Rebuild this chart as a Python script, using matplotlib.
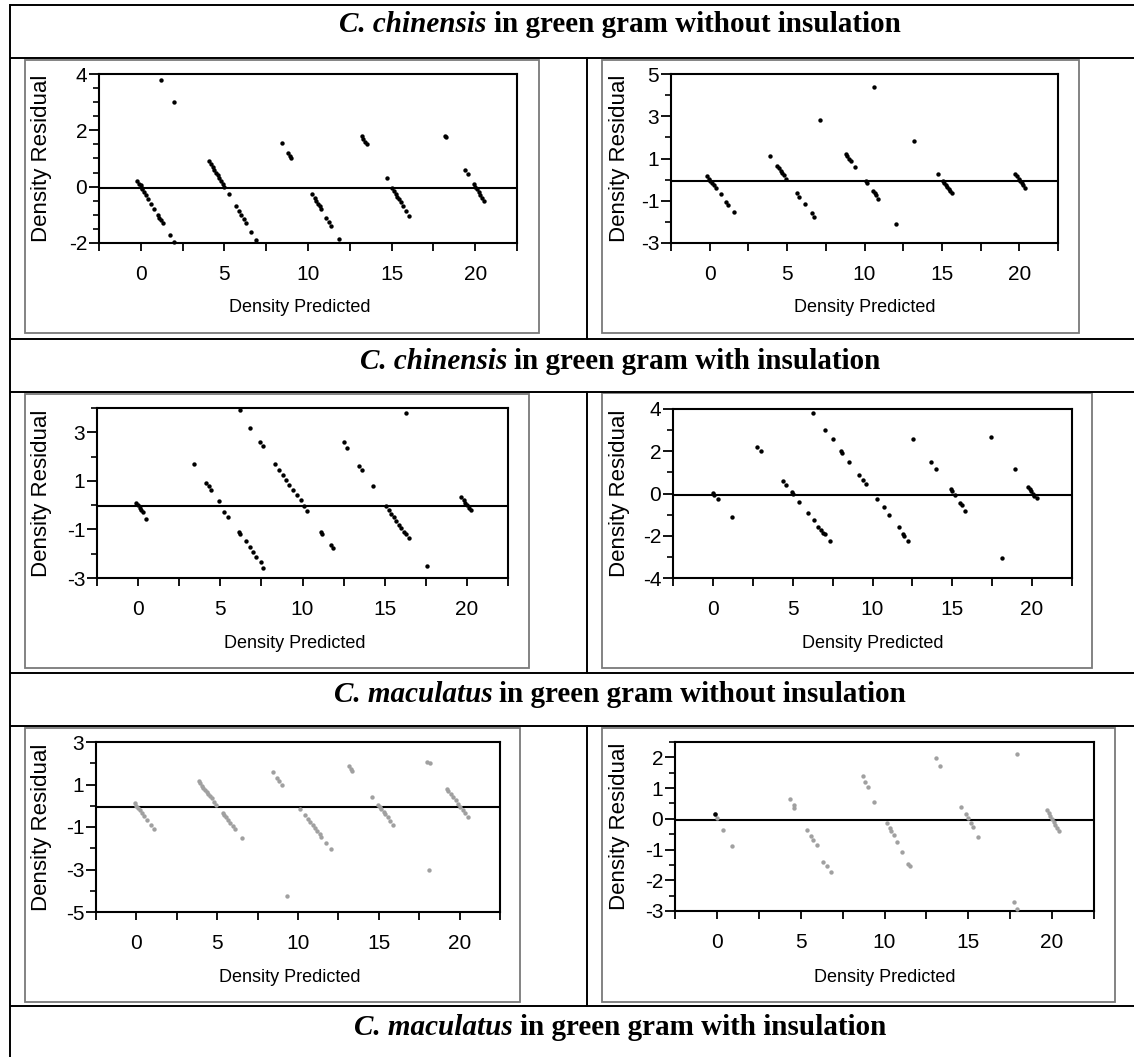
import matplotlib
matplotlib.use("Agg")
import matplotlib.pyplot as plt
from matplotlib.patches import Rectangle
import numpy as np

plt.rcParams['axes.unicode_minus'] = False

W, H = 1134, 1057

# ---- data ----
headers = [
    ("C. chinensis", "in green gram without insulation"),
    ("C. chinensis", "in green gram with insulation"),
    ("C. maculatus", "in green gram without insulation"),
    ("C. maculatus", "in green gram with insulation"),
]

pred_1 = [-0.2, -0.1, 0.0, 0.05, 0.1, 0.2, 0.3, 0.45, 0.6, 0.8, 1.0, 1.1, 1.2, 1.3, 1.75, 2.0, 1.2, 2.0,
          4.1, 4.2, 4.3, 4.4, 4.5, 4.6, 4.7, 4.8, 4.9, 5.0, 5.25, 5.7, 5.85, 6.0, 6.15, 6.3, 6.6, 6.9,
          8.45, 8.8, 8.9, 9.0, 10.25, 10.4, 10.5, 10.6, 10.7, 10.8, 11.1, 11.25, 11.4, 11.85,
          13.2, 13.3, 13.4, 13.5, 14.75, 15.05, 15.15, 15.25, 15.35, 15.45, 15.55, 15.7, 15.85, 16.05,
          18.2, 18.25, 19.4, 19.55, 19.9, 20.0, 20.1, 20.2, 20.3, 20.4, 20.55]
resid_1 = [0.2, 0.1, 0.05, -0.05, -0.1, -0.2, -0.3, -0.45, -0.6, -0.8, -1.0, -1.1, -1.2, -1.3, -1.7, -1.95, 3.8, 3.02,
           0.9, 0.8, 0.7, 0.6, 0.5, 0.4, 0.3, 0.2, 0.1, 0.0, -0.25, -0.7, -0.85, -1.0, -1.15, -1.3, -1.6, -1.9,
           1.55, 1.2, 1.1, 1.0, -0.25, -0.4, -0.5, -0.6, -0.7, -0.8, -1.1, -1.25, -1.4, -1.85,
           1.8, 1.7, 1.6, 1.5, 0.3, -0.05, -0.15, -0.25, -0.35, -0.45, -0.55, -0.7, -0.85, -1.05,
           1.8, 1.75, 0.6, 0.45, 0.1, 0.0, -0.1, -0.2, -0.3, -0.4, -0.5]

pred_2 = [-0.15, -0.05, 0.05, 0.15, 0.25, 0.4, 0.7, 1.05, 1.2, 1.55,
          3.9, 4.35, 4.45, 4.6, 4.7, 4.8, 4.95, 5.65, 5.8, 6.15, 6.6, 6.75, 7.15,
          8.8, 8.9, 9.0, 9.1, 9.4, 10.1, 10.15, 10.55, 10.65, 10.75, 10.9, 10.6, 12.05, 13.2,
          14.75, 15.05, 15.15, 15.25, 15.35, 15.45, 15.55, 15.65,
          19.75, 19.85, 19.95, 20.05, 20.15, 20.25, 20.4]
resid_2 = [0.15, 0.05, -0.05, -0.15, -0.25, -0.4, -0.7, -1.05, -1.2, -1.55,
           1.1, 0.65, 0.55, 0.4, 0.3, 0.2, 0.05, -0.65, -0.8, -1.15, -1.6, -1.75, 2.83,
           1.2, 1.1, 1.0, 0.9, 0.6, -0.05, -0.15, -0.55, -0.65, -0.75, -0.9, 4.4, -2.09, 1.83,
           0.25, -0.05, -0.15, -0.25, -0.35, -0.45, -0.55, -0.65,
           0.25, 0.15, 0.05, -0.05, -0.15, -0.25, -0.4]

pred_3 = [-0.1, 0.0, 0.1, 0.2, 0.3, 0.5, 3.4, 4.1, 4.3, 4.45, 4.9, 5.2, 5.45,
          6.15, 6.2, 6.55, 6.8, 7.0, 7.2, 7.45, 7.6,
          6.2, 6.8, 7.4, 7.6, 8.35, 8.55, 8.8, 9.0, 9.2, 9.45, 9.65, 9.9, 10.1, 10.3,
          11.1, 11.2, 11.75, 11.85, 12.5, 12.7, 13.45, 13.6, 14.3,
          15.1, 15.25, 15.4, 15.55, 15.7, 15.85, 16.0, 16.15, 16.3, 16.45, 16.3, 17.55,
          19.65, 19.8, 19.9, 20.0, 20.1, 20.25]
resid_3 = [0.1, 0.0, -0.1, -0.2, -0.3, -0.55, 1.7, 0.93, 0.77, 0.63, 0.17, -0.27, -0.48,
           -1.1, -1.2, -1.48, -1.72, -1.92, -2.13, -2.34, -2.57,
           3.9, 3.18, 2.59, 2.42, 1.7, 1.45, 1.25, 1.04, 0.83, 0.63, 0.42, 0.21, -0.03, -0.23,
           -1.1, -1.2, -1.65, -1.75, 2.59, 2.35, 1.62, 1.45, 0.77,
           -0.03, -0.2, -0.35, -0.5, -0.65, -0.8, -0.95, -1.1, -1.2, -1.35, 3.8, -2.5,
           0.35, 0.2, 0.1, 0.0, -0.1, -0.2]

pred_4 = [0.0, 0.1, 0.35, 1.2, 2.75, 3.0, 4.4, 4.6, 4.95, 5.05,
          5.4, 5.95, 6.35, 6.6, 6.75, 6.9, 7.0, 7.35,
          6.25, 7.05, 7.55, 8.05, 8.1, 8.55, 9.15, 9.4, 9.6,
          10.3, 10.75, 11.05, 11.65, 11.9, 12.0, 12.25,
          12.55, 13.65, 13.95, 14.9, 15.0, 15.2, 15.5, 15.6, 15.8, 17.45, 18.1, 18.9,
          19.75, 19.85, 19.95, 20.05, 20.15, 20.3]
resid_4 = [0.03, -0.08, -0.28, -1.1, 2.2, 2.0, 0.6, 0.4, 0.08, 0.0,
           -0.4, -0.92, -1.26, -1.6, -1.74, -1.85, -1.94, -2.26,
           3.83, 3.0, 2.56, 2.0, 1.9, 1.5, 0.87, 0.63, 0.43,
           -0.28, -0.63, -1.0, -1.58, -1.9, -2.0, -2.26,
           2.56, 1.5, 1.14, 0.19, 0.1, -0.08, -0.44, -0.55, -0.82, 2.66, -3.05, 1.14,
           0.3, 0.2, 0.1, 0.0, -0.1, -0.2]

pred_5 = [-0.1, 0.0, 0.1, 0.2, 0.35, 0.5, 0.65, 0.9, 1.1,
          3.85, 3.95, 4.05, 4.15, 4.25, 4.35, 4.45, 4.55, 4.65, 4.8, 4.95,
          5.35, 5.45, 5.55, 5.65, 5.8, 5.95, 6.1, 6.55,
          8.45, 8.7, 8.85, 9.0, 9.3, 10.15, 10.45, 10.6, 10.75, 10.9, 11.05, 11.2, 11.35, 11.45, 11.75, 12.05,
          13.15, 13.25, 13.35, 14.6, 14.95, 15.05, 15.15, 15.3, 15.4, 15.55, 15.7, 15.9,
          18.0, 18.15, 18.1, 19.2, 19.3, 19.45, 19.6, 19.75, 19.9, 20.05, 20.2, 20.35, 20.55]
resid_5 = [0.15, 0.0, -0.1, -0.2, -0.35, -0.5, -0.65, -0.9, -1.1,
           1.15, 1.05, 0.95, 0.85, 0.75, 0.65, 0.55, 0.45, 0.35, 0.2, 0.05,
           -0.35, -0.45, -0.55, -0.65, -0.8, -0.95, -1.1, -1.5,
           1.6, 1.3, 1.15, 1.0, -4.25, -0.15, -0.45, -0.6, -0.75, -0.9, -1.05, -1.2, -1.35, -1.45, -1.75, -2.05,
           1.85, 1.75, 1.65, 0.4, 0.05, -0.05, -0.15, -0.3, -0.4, -0.55, -0.7, -0.9,
           2.05, 2.0, -3.0, 0.8, 0.7, 0.55, 0.4, 0.25, 0.1, -0.05, -0.2, -0.35, -0.55]

pred_6 = [0.0, 0.35, 0.9, 4.35, 4.6, 4.6, 5.4, 5.6, 5.75, 5.95, 6.35, 6.55, 6.8,
          8.7, 8.85, 9.0, 9.4, 10.15, 10.3, 10.4, 10.55, 10.75, 11.05, 11.4, 11.5,
          13.05, 13.3, 14.55, 14.85, 15.0, 15.15, 15.3, 15.55, 17.9, 17.75, 17.9,
          19.7, 19.8, 19.9, 20.0, 20.1, 20.2, 20.3, 20.4]
resid_6 = [0.02, -0.38, -0.87, 0.64, 0.46, 0.35, -0.38, -0.55, -0.68, -0.84, -1.41, -1.54, -1.74,
           1.4, 1.21, 1.03, 0.56, -0.14, -0.3, -0.41, -0.52, -0.75, -1.09, -1.46, -1.52,
           1.99, 1.73, 0.4, 0.16, 0.02, -0.12, -0.25, -0.59, 2.1, -2.71, -2.95,
           0.3, 0.2, 0.1, 0.0, -0.1, -0.2, -0.3, -0.4]
pred_6_dark = [-0.1]
resid_6_dark = [0.15]

# ylim, labelled ticks, minor step
yaxes = [
    ((-2, 4), [-2, 0, 2, 4], 0.5),
    ((-3, 5), [-3, -1, 1, 3, 5], 1),
    ((-3, 4), [-3, -1, 1, 3], 1),
    ((-4, 4), [-4, -2, 0, 2, 4], 1),
    ((-5, 3), [-5, -3, -1, 1, 3], 1),
    ((-3, 2.5), [-3, -2, -1, 0, 1, 2], 0.5),
]

# ---- layout (pixels) ----
ax_boxes = [(99, 74, 517, 243), (671, 74, 1058, 243),
            (97, 408, 508, 578), (673, 409, 1072, 578),
            (96, 742, 500, 912), (675, 742, 1094, 911)]
frames = [(25, 60, 539, 333), (602, 60, 1079, 333),
          (25, 394, 529, 668), (602, 393, 1092, 668),
          (25, 728, 520, 1002), (602, 728, 1115, 1002)]
ylab_x = [42, 619, 42, 620, 42, 620]
xlab_y = [308, 308, 643, 643, 977, 977]

tick_font = ['Liberation Sans Narrow', 'Liberation Sans']
lab_font = ['Liberation Sans', 'DejaVu Sans']
serif = ['Liberation Serif', 'DejaVu Serif']

fig = plt.figure(figsize=(W / 100, H / 100), dpi=100)
bg = fig.add_axes([0, 0, 1, 1], zorder=0)
bg.set_xlim(0, W)
bg.set_ylim(H, 0)
bg.axis('off')

# table lines
lw_t = 1.4
for y in [5, 58, 339, 392, 673, 726, 1006]:
    bg.plot([10, W], [y, y], color='black', lw=lw_t, solid_capstyle='butt')
bg.plot([10, 10], [5, H], color='black', lw=lw_t)
for y0, y1 in [(58, 339), (392, 673), (726, 1006)]:
    bg.plot([587, 587], [y0, y1], color='black', lw=lw_t)

# headers (bold italic genus + bold rest), centred
fig.canvas.draw()
rend = fig.canvas.get_renderer()
for (ital, rest), yb in zip(headers, [32, 369, 702, 1035]):
    t1 = bg.text(0, yb, ital, family=serif, fontsize=21, fontweight='bold',
                 fontstyle='italic', va='baseline', ha='left')
    t2 = bg.text(0, yb, rest, family=serif, fontsize=21, fontweight='bold',
                 va='baseline', ha='left')
    w1 = t1.get_window_extent(rend).width
    w2 = t2.get_window_extent(rend).width
    gap = 7
    x0 = 620 - (w1 + gap + w2) / 2
    t1.set_x(x0)
    t2.set_x(x0 + w1 + gap)

# image frames
for (l, t, r, b) in frames:
    bg.add_patch(Rectangle((l, t), r - l, b - t, fill=False, ec='#7a7a7a', lw=1.3))

preds = [pred_1, pred_2, pred_3, pred_4, pred_5, pred_6]
resids = [resid_1, resid_2, resid_3, resid_4, resid_5, resid_6]
colors = ['black', 'black', 'black', 'black', '#a0a0a0', '#a0a0a0']

for i in range(6):
    l, t, r, b = ax_boxes[i]
    ax = fig.add_axes([l / W, 1 - b / H, (r - l) / W, (b - t) / H], zorder=2)
    ax.scatter(preds[i], resids[i], s=10, color=colors[i], linewidths=0, clip_on=False, zorder=3)
    if i == 5:
        ax.scatter(pred_6_dark, resid_6_dark, s=11, color='black', linewidths=0, zorder=4)
    ax.axhline(-0.05, color='black', lw=1.5, zorder=2)
    ax.set_xlim(-2.5, 22.5)
    ylim, yt, ystep = yaxes[i]
    ax.set_ylim(*ylim)
    ax.set_xticks([0, 5, 10, 15, 20])
    ax.set_xticks(np.arange(-2.5, 22.6, 2.5), minor=True)
    ax.set_yticks(yt)
    ax.set_yticks(np.arange(ylim[0], ylim[1] + 0.01, ystep), minor=True)
    for s in ax.spines.values():
        s.set_linewidth(1.5)
    ax.tick_params(axis='x', which='both', length=6, width=1.3, pad=10, labelsize=15)
    ax.tick_params(axis='y', which='major', length=7, width=1.3, pad=1.5, labelsize=15)
    ax.tick_params(axis='y', which='minor', length=4, width=1.2)
    for lab in ax.get_xticklabels() + ax.get_yticklabels():
        lab.set_family(tick_font)
    cx = (l + r) / 2
    bg.text(ylab_x[i], (t + b) / 2, 'Density Residual', rotation=90, ha='center', va='center',
            family=lab_font, fontsize=16)
    bg.text(cx - 8 if i % 2 == 0 else cx, xlab_y[i], 'Density Predicted', ha='center', va='center',
            family=lab_font, fontsize=13)

fig.savefig('out.png', dpi=100)
